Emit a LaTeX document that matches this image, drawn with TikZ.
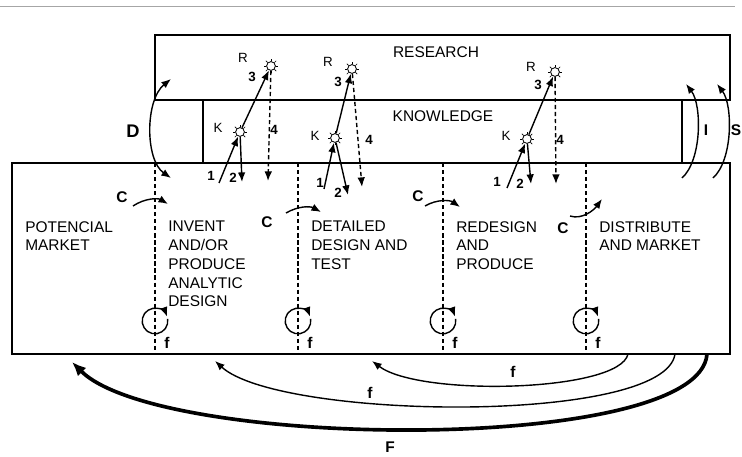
\documentclass[tikz,border=0pt]{standalone}
\usepackage{fontspec}
\setmainfont{Liberation Sans}
\usetikzlibrary{arrows.meta}
\tikzset{
  frame/.style={draw, line width=1pt},
  sep/.style={dash pattern=on 3pt off 2pt, line width=0.8pt},
  band/.style={inner sep=0pt, font=\fontsize{11}{13}\selectfont},
  stage/.style={
    anchor=north west,
    align=left,
    inner sep=0pt,
    font=\fontsize{11}{13.3}\selectfont
  },
  sun/.style={circle, draw, fill=white, line width=0.6pt, minimum size=2.2mm, inner sep=0pt},
  tag/.style={inner sep=0pt, font=\fontsize{9.5}{10}\selectfont},
  numtag/.style={inner sep=0pt, font=\fontsize{9.5}{10}\selectfont\bfseries},
  flow/.style={inner sep=0pt, font=\fontsize{11}{12}\selectfont\bfseries},
  bigflow/.style={inner sep=0pt, font=\fontsize{13}{14}\selectfont\bfseries},
  arrow/.style={-{Latex[length=2.4mm, width=1.9mm]}, line width=1pt},
  dataarrow/.style={-{Latex[length=2.4mm, width=1.9mm]}, line width=1pt, dash pattern=on 3pt off 2pt},
  twoway/.style={{Latex[length=2.4mm, width=1.9mm]}-{Latex[length=2.4mm, width=1.9mm]}, line width=1pt},
  bigarrow/.style={-{Latex[length=3.5mm, width=3mm]}, line width=2.6pt}
}

\begin{document}
\begin{tikzpicture}[x=0.025cm, y=-0.025cm]
\useasboundingbox (0,0) rectangle (742,457);
\draw[gray!70, line width=0.6pt] (0,6) -- (735,6);

% research, knowledge and the chain
\draw[frame] (155,35) rectangle (730,100);
\draw[frame] (203,100) -- (203,163);
\draw[frame] (682,100) -- (682,163);
\draw[frame] (12,163) rectangle (730,354);
\foreach \x in {155,298,443,586}
  \draw[sep] (\x,163) -- (\x,354);

\node[band] (research) at (436,52) {RESEARCH};
\node[band] (knowledge) at (443,116) {KNOWLEDGE};

\node[stage] (market) at (25,221) {POTENCIAL\\MARKET};
\node[stage] (invent) at (168,221) {INVENT\\AND/OR\\PRODUCE\\ANALYTIC\\DESIGN};
\node[stage] (detailed) at (311,221) {DETAILED\\DESIGN AND\\TEST};
\node[stage] (redesign) at (456,221) {REDESIGN\\AND\\PRODUCE};
\node[stage] (distribute) at (599,221) {DISTRIBUTE\\AND MARKET};

% knowledge and research points
\node[sun] (K1) at (240,132) {};
\node[sun] (R1) at (271,66) {};
\node[sun] (K2) at (335,138) {};
\node[sun] (R2) at (352,69) {};
\node[sun] (K3) at (527,139) {};
\node[sun] (R3) at (555,72) {};
\foreach \s in {K1,R1,K2,R2,K3,R3}
  \foreach \a in {0,45,...,315}
    \draw[line width=0.5pt] (\s.\a) -- ++(\a:1.8pt);

\node[tag] (k1) at (218,128) {K};
\node[tag] (r1) at (243,58) {R};
\node[tag] (k2) at (315,136) {K};
\node[tag] (r2) at (328,62) {R};
\node[tag] (k3) at (506,136) {K};
\node[tag] (r3) at (531,67) {R};

\coordinate (in1) at (219,183);
\coordinate (out1) at (242,182);
\coordinate (back1) at (268,181);
\coordinate (in2) at (324,189);
\coordinate (out2) at (348,195);
\coordinate (back2) at (362,187);
\coordinate (in3) at (507,188);
\coordinate (out3) at (531,184);
\coordinate (back3) at (556,184);

\draw[arrow] (in1) -- (K1);
\draw[arrow] (K1) -- (out1);
\draw[arrow] (K1) -- (R1);
\draw[dataarrow] (R1) -- (back1);
\draw[arrow] (in2) -- (K2);
\draw[arrow] (K2) -- (out2);
\draw[arrow] (K2) -- (R2);
\draw[dataarrow] (R2) -- (back2);
\draw[arrow] (in3) -- (K3);
\draw[arrow] (K3) -- (out3);
\draw[arrow] (K3) -- (R3);
\draw[dataarrow] (R3) -- (back3);

\node[numtag] at (211,176) {1};
\node[numtag] at (233,178) {2};
\node[numtag] at (252,77) {3};
\node[numtag] at (274,130) {4};
\node[numtag] at (320,183) {1};
\node[numtag] at (338,193) {2};
\node[numtag] at (338,82) {3};
\node[numtag] at (369,140) {4};
\node[numtag] at (497,182) {1};
\node[numtag] at (520,184) {2};
\node[numtag] at (538,85) {3};
\node[numtag] at (560,140) {4};

% chain-linked feedbacks
\coordinate (c1a) at (133,206);
\coordinate (c1b) at (168,204);
\coordinate (c2a) at (286,213);
\coordinate (c2b) at (321,212);
\coordinate (c3a) at (425,206);
\coordinate (c3b) at (460,207);
\coordinate (c4a) at (570,216);
\coordinate (c4b) at (602,199);
\draw[arrow] (c1a) .. controls (145,198) and (158,198) .. (c1b);
\draw[arrow] (c2a) .. controls (298,206) and (310,206) .. (c2b);
\draw[arrow] (c3a) .. controls (437,199) and (450,200) .. (c3b);
\draw[arrow] (c4a) .. controls (582,220) and (594,210) .. (c4b);
\node[flow] (C1) at (122,197) {C};
\node[flow] (C2) at (267,222) {C};
\node[flow] (C3) at (418,196) {C};
\node[flow] (C4) at (563,228) {C};

\foreach \x [count=\n] in {155,298,443,586} {
  \coordinate (loop\n) at (\x,321);
  \draw[arrow] ([shift={(10:0.32cm)}]loop\n) arc[start angle=10, end angle=-340, radius=0.32cm];
  \node[flow] at (\x+12,343) {f};
}

% D, I and S
\coordinate (Dtop) at (171,79);
\coordinate (Dbot) at (171,178);
\draw[twoway] (Dtop) .. controls (145,100) and (145,160) .. (Dbot);
\node[bigflow] (D) at (133,131) {D};
\coordinate (Ifrom) at (682,178);
\coordinate (Ito) at (686,84);
\draw[arrow] (Ifrom) .. controls (702,160) and (702,105) .. (Ito);
\node[flow] (I) at (706,130) {I};
\coordinate (Sfrom) at (713,178);
\coordinate (Sto) at (717,84);
\draw[arrow] (Sfrom) .. controls (733,160) and (733,105) .. (Sto);
\node[flow] (S) at (736,130) {S};

% feedback below
\coordinate (f1from) at (628,354);
\coordinate (f1to) at (372,361);
\coordinate (f2from) at (675,354);
\coordinate (f2to) at (215,361);
\coordinate (Ffrom) at (707,354);
\coordinate (Fto) at (72,362);
\draw[arrow] (f1from) .. controls (620,392) and (420,397) .. (f1to);
\draw[arrow] (f2from) .. controls (665,425) and (280,420) .. (f2to);
\draw[bigarrow] (Ffrom) .. controls (700,455) and (160,450) .. (Fto);
\node[flow] at (513,372) {f};
\node[flow] at (370,393) {f};
\node[flow] (F) at (390,447) {F};
\end{tikzpicture}
\end{document}
